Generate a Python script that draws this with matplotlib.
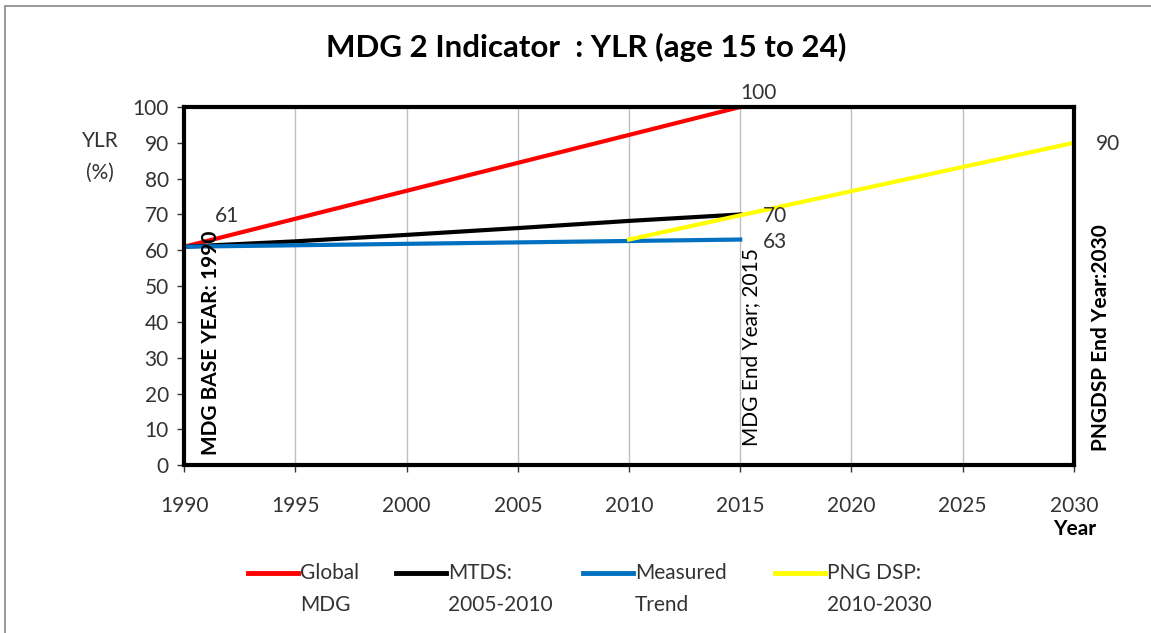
import matplotlib.pyplot as plt
from matplotlib.lines import Line2D
from matplotlib.patches import Rectangle

plt.rcParams['font.family'] = ['Lato', 'DejaVu Sans']

# data
global_years = [1990, 2015]
global_vals = [61, 100]
mtds_years = [1990, 1995, 2000, 2005, 2010, 2015]
mtds_vals = [61, 62.5, 64.3, 66.2, 68.2, 70]
measured_years = [1990, 2015]
measured_vals = [61, 63]
png_years = [2010, 2030]
png_vals = [63, 90]
xticks = list(range(1990, 2031, 5))
yticks = list(range(0, 101, 10))

series_colors = ['#ff0000', 'black', '#0070c0', '#ffff00']
series_labels = ['Global\nMDG', 'MTDS:\n2005-2010', 'Measured\nTrend', 'PNG DSP:\n2010-2030']

fig = plt.figure(figsize=(11.51, 6.33), dpi=100)
ax = fig.add_axes([0.16, 0.265, 0.773, 0.566])

ax.plot(global_years, global_vals, color=series_colors[0], lw=3)
ax.plot(mtds_years, mtds_vals, color=series_colors[1], lw=3)
ax.plot(measured_years, measured_vals, color=series_colors[2], lw=3)
ax.plot(png_years, png_vals, color=series_colors[3], lw=3)

ax.set_xlim(1990, 2030)
ax.set_ylim(0, 100)
ax.set_xticks(xticks)
ax.set_yticks(yticks)
ax.grid(axis='x', color='#bfbfbf', lw=1)
ax.set_axisbelow(True)
for s in ax.spines.values():
    s.set_linewidth(3)
    s.set_color('black')
ax.tick_params(labelsize=15, colors='#333333', length=5, width=1)
ax.tick_params(axis='x', pad=17)
ax.tick_params(axis='y', pad=6)

fig.text(0.509, 0.925, 'MDG 2 Indicator  : YLR (age 15 to 24)', fontsize=22.5,
         fontweight='bold', ha='center', va='center')
fig.text(0.087, 0.752, 'YLR\n(%)', fontsize=15, ha='center', va='center',
         color='#333333', linespacing=1.75)
fig.text(0.934, 0.165, 'Year', fontsize=15, fontweight='bold', ha='center', va='center')

# value labels
ax.text(1991.4, 69.5, '61', fontsize=15, color='#333333', va='center')
ax.text(2015.0, 104, '100', fontsize=15, color='#333333', va='center', clip_on=False)
ax.text(2016.0, 69.5, '70', fontsize=15, color='#333333', va='center')
ax.text(2016.0, 62.3, '63', fontsize=15, color='#333333', va='center')
ax.text(2031.0, 89.7, '90', fontsize=15, color='#333333', va='center', clip_on=False)

# year markers
ax.text(1991.2, 2.8, 'MDG BASE YEAR: 1990', rotation=90, fontsize=15, fontweight='bold',
        ha='center', va='bottom')
ax.text(2015.5, 5.5, 'MDG End Year; 2015', rotation=90, fontsize=15,
        ha='center', va='bottom')
ax.text(2031.2, 4.0, 'PNGDSP End Year:2030', rotation=90, fontsize=15, fontweight='bold',
        ha='center', va='bottom', clip_on=False)

# legend below, drawn by hand so the key sits on the first text line
leg_x = [248, 396, 583, 775]
for x0, c, lab in zip(leg_x, series_colors, series_labels):
    fx = x0 / 1151
    fig.add_artist(Line2D([fx, fx + 50 / 1151], [1 - 573 / 633] * 2, color=c, lw=3.5,
                          transform=fig.transFigure))
    fig.text(fx + 52 / 1151, 1 - 563 / 633, lab, fontsize=15, color='#333333',
             ha='left', va='top', linespacing=1.75)

fig.patches.append(Rectangle((0.0045, -0.1), 1.2, 1.09, transform=fig.transFigure,
                             fill=False, edgecolor='#888888', lw=1.2))

fig.savefig('out.png', dpi=100)
